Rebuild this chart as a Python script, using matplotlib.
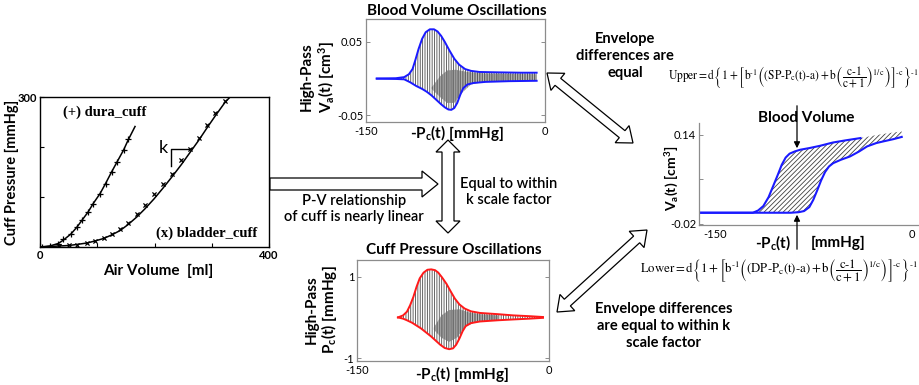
import numpy as np
import matplotlib
matplotlib.use("Agg")
import matplotlib.pyplot as plt
from matplotlib.transforms import Affine2D
from matplotlib.patches import Polygon, FancyArrowPatch

plt.rcParams['font.family'] = ['Lato', 'DejaVu Sans']
plt.rcParams['mathtext.fontset'] = 'custom'
plt.rcParams['mathtext.rm'] = 'Lato'
plt.rcParams['mathtext.it'] = 'Lato:italic'
plt.rcParams['mathtext.bf'] = 'Lato:bold'
plt.rcParams['hatch.linewidth'] = 0.6

# ---------------- data ----------------
# left: P-V curves
dura_fit_v = [0, 17, 32, 41, 54, 64, 73, 84, 93, 105, 115, 125, 135, 146, 154, 166]
dura_fit_p = [0, 2, 7, 14, 26, 39, 53, 70, 87, 107, 128, 150, 171, 194, 214, 241]
dura_pts_v = [3, 17, 32, 41, 54, 64, 73, 84, 93, 105, 115, 125, 135, 146, 154]
dura_pts_p = [1, 3, 7, 16, 27, 41, 54, 71, 87, 107, 127, 151, 171, 195, 217]
bladder_fit_v = [0, 34, 50, 64, 82, 96, 111, 125, 140, 154, 169, 183, 199, 215, 231, 247, 262, 277, 291, 306, 323, 332]
bladder_fit_p = [0, 2, 3, 5, 8, 12, 17, 24, 33, 45, 60, 76, 96, 118, 141, 165, 189, 213, 237, 262, 289, 300]
bladder_pts_v = [34, 50, 64, 82, 96, 111, 125, 140, 154, 169, 183, 199, 215, 231, 247, 262, 277, 291, 306, 323]
bladder_pts_p = [3, 4, 5, 9, 13, 19, 26, 36, 49, 66, 84, 106, 126, 147, 174, 197, 219, 244, 269, 293]

# top middle: high-pass blood volume envelope
bv_up_x = [-141, -125, -118, -114, -111, -108.5, -106, -103, -100, -96.5, -93, -90, -87, -84, -80, -76, -72, -67, -62, -55, -40, -20, -7]
bv_up_y = [0.0, 0.0005, 0.002, 0.006, 0.013, 0.026, 0.040, 0.054, 0.063, 0.067, 0.067, 0.064, 0.058, 0.050, 0.038, 0.027, 0.019, 0.013, 0.0105, 0.009, 0.0085, 0.008, 0.008]
bv_lo_x = [-141, -125, -118, -113, -108, -103, -99, -95, -91, -87, -84, -81, -78.5, -76, -73.5, -71, -68.5, -65, -60, -50, -30, -7]
bv_lo_y = [0.0, -0.0005, -0.001, -0.005, -0.010, -0.014, -0.018, -0.023, -0.029, -0.035, -0.039, -0.042, -0.0425, -0.040, -0.033, -0.022, -0.013, -0.008, -0.006, -0.0045, -0.0035, -0.003]
bv_in_up_x = [-95, -88, -82, -75, -65, -50, -7]
bv_in_up_y = [-0.012, 0.003, 0.011, 0.012, 0.009, 0.007, 0.006]
bv_in_lo_x = [-95, -88, -82, -76, -70, -62, -50, -7]
bv_in_lo_y = [-0.014, -0.025, -0.033, -0.033, -0.020, -0.008, -0.004, -0.002]

# bottom middle: high-pass cuff pressure envelope
cp_up_x = [-118, -114, -111, -108.5, -106, -103.5, -101, -98, -95, -92, -89, -86.5, -83.5, -80, -77, -73.5, -70, -66, -61, -54, -40, -28, -15, -4.7]
cp_up_y = [0.0, 0.05, 0.14, 0.30, 0.50, 0.75, 0.96, 1.10, 1.17, 1.18, 1.16, 1.10, 0.98, 0.82, 0.65, 0.46, 0.32, 0.22, 0.15, 0.11, 0.08, 0.05, 0.03, 0.01]
cp_lo_x = [-118, -114, -111, -107, -103.5, -100, -96, -92, -88.5, -85, -81.5, -78, -75, -72.5, -70, -67.5, -65, -61, -54, -40, -28, -15, -4.7]
cp_lo_y = [0.0, -0.03, -0.07, -0.13, -0.20, -0.27, -0.37, -0.47, -0.57, -0.67, -0.75, -0.78, -0.76, -0.67, -0.52, -0.34, -0.21, -0.14, -0.10, -0.07, -0.05, -0.03, -0.01]
cp_in_up_x = [-90, -84, -78, -70, -62, -54, -40]
cp_in_up_y = [-0.25, 0.05, 0.18, 0.20, 0.12, 0.08, 0.05]
cp_in_lo_x = [-90, -84, -78, -72, -66, -58, -40]
cp_in_lo_y = [-0.30, -0.50, -0.60, -0.50, -0.25, -0.12, -0.06]

# right: absolute blood volume envelope
va_up_x = [-162, -130, -121, -117, -113, -109, -105.5, -102, -99, -96, -93, -89, -85, -78, -70, -60, -50, -39]
va_up_y = [0.0, 0.0, 0.0, 0.004, 0.012, 0.028, 0.048, 0.068, 0.086, 0.099, 0.106, 0.110, 0.113, 0.116, 0.120, 0.126, 0.130, 0.134]
va_top_x = [-30, -20, -7.6]
va_top_y = [0.138, 0.142, 0.146]
va_lo_x = [-162, -120, -92, -86, -82, -78, -75, -72, -69, -66, -63, -59.8, -54, -47, -40, -34, -27, -21.6, -14, -7.6]
va_lo_y = [0.0, 0.0, 0.0, 0.001, 0.003, 0.010, 0.023, 0.040, 0.058, 0.073, 0.083, 0.089, 0.095, 0.101, 0.110, 0.119, 0.125, 0.128, 0.132, 0.136]

# ---------------- figure ----------------
W, H = 920, 385
fig = plt.figure(figsize=(W / 100, H / 100), dpi=100)
pix = Affine2D().scale(1 / W, -1 / H).translate(0, 1) + fig.transFigure


def add_ax(x0, y0, x1, y1):
    return fig.add_axes([x0 / W, 1 - y1 / H, (x1 - x0) / W, (y1 - y0) / H])


def txt(x, y, s, **kw):
    kw.setdefault('ha', 'center')
    kw.setdefault('va', 'center')
    return fig.text(x, y, s, transform=pix, **kw)


def block_arrow(x0, y0, x1, y1, shaft, head, hlen, double=False):
    p0 = np.array([x0, y0], float)
    p1 = np.array([x1, y1], float)
    d = p1 - p0
    u = d / np.hypot(*d)
    n = np.array([-u[1], u[0]])
    s, h = shaft / 2, head / 2
    b1 = p1 - u * hlen
    if double:
        b0 = p0 + u * hlen
        pts = [p0, b0 + n * h, b0 + n * s, b1 + n * s, b1 + n * h, p1,
               b1 - n * h, b1 - n * s, b0 - n * s, b0 - n * h]
    else:
        pts = [p0 + n * s, b1 + n * s, b1 + n * h, p1, b1 - n * h, b1 - n * s, p0 - n * s]
    fig.add_artist(Polygon(pts, closed=True, facecolor='white', edgecolor='black',
                           lw=0.9, transform=pix))


def style_box(ax, color='0.55'):
    for sp in ax.spines.values():
        sp.set_color(color)
        sp.set_linewidth(0.9)
    ax.tick_params(direction='in', length=3, width=0.7, color=color,
                   labelsize=8, pad=2)


# ---- left chart
axL = add_ax(40, 97, 269, 247)
axL.plot(dura_fit_v, dura_fit_p, color='black', lw=1.1)
axL.plot(bladder_fit_v, bladder_fit_p, color='black', lw=1.1)
axL.scatter(dura_pts_v, dura_pts_p, marker='+', s=14, color='black', lw=0.9)
axL.scatter(bladder_pts_v, bladder_pts_p, marker='x', s=9, color='black', lw=0.9)
axL.set_xlim(0, 400)
axL.set_ylim(0, 300)
for sp in axL.spines.values():
    sp.set_color('black')
    sp.set_linewidth(1.0)
axL.set_xticks([0, 100, 200, 300, 400])
axL.set_xticklabels(['0', '', '', '', '400'])
axL.set_yticks([0, 100, 200, 300])
axL.set_yticklabels(['', '', '', '300'])
axL.tick_params(direction='in', length=3, labelsize=8, pad=2)
for lab in axL.get_xticklabels() + axL.get_yticklabels():
    lab.set_fontweight('bold')
axL.text(0.10, 0.90, '(+) dura_cuff', transform=axL.transAxes, family=['Liberation Serif'],
         weight='bold', fontsize=10.5, ha='left', va='center')
axL.text(0.95, 0.09, '(x) bladder_cuff', transform=axL.transAxes, family=['Liberation Serif'],
         weight='bold', fontsize=10.5, ha='right', va='center')
axL.plot([228, 228, 262], [162, 197, 197], color='black', lw=1.0)
axL.text(215, 198, 'k', fontsize=13, ha='center', va='center')
txt(12, 172, 'Cuff Pressure [mmHg]', rotation=90, fontsize=10.5, weight='bold')
txt(158, 271, 'Air Volume  [ml]', fontsize=11, weight='bold')

# ---- top middle chart
axT = add_ax(366, 19, 545, 122)
axT.fill(np.concatenate([bv_up_x, bv_lo_x[::-1]]), np.concatenate([bv_up_y, bv_lo_y[::-1]]),
         facecolor='none', edgecolor='0.3', hatch='|' * 7, lw=0)
axT.fill(np.concatenate([bv_in_up_x, bv_in_lo_x[::-1]]), np.concatenate([bv_in_up_y, bv_in_lo_y[::-1]]),
         facecolor='0.55', alpha=0.45, edgecolor='0.15', hatch='|' * 10, lw=0)
axT.plot(bv_up_x, bv_up_y, color='#1a1aff', lw=1.4)
axT.plot(bv_lo_x, bv_lo_y, color='#1a1aff', lw=1.4)
axT.set_xlim(-150, 0)
axT.set_ylim(-0.059, 0.081)
axT.set_xticks([-150, 0])
axT.set_xticklabels(['-150', '0'])
axT.set_yticks([-0.05, 0.05])
axT.set_yticklabels(['-0.05', '0.05'])
style_box(axT)
axT.tick_params(axis='y', right=True)
axT.tick_params(axis='x', length=0, pad=3)
txt(457, 11, 'Blood Volume Oscillations', fontsize=11, weight='bold')
txt(307, 77, 'High-Pass', rotation=90, fontsize=11, weight='bold')
txt(327, 77, r'V$_\mathbf{a}$(t) [cm$^\mathbf{3}$]', rotation=90, fontsize=11, weight='bold')
txt(457, 133, r'-P$_\mathbf{c}$(t) [mmHg]', fontsize=11, weight='bold')

# ---- bottom middle chart
axB = add_ax(357, 260, 549, 361)
axB.fill(np.concatenate([cp_up_x, cp_lo_x[::-1]]), np.concatenate([cp_up_y, cp_lo_y[::-1]]),
         facecolor='none', edgecolor='0.3', hatch='|' * 7, lw=0)
axB.fill(np.concatenate([cp_in_up_x, cp_in_lo_x[::-1]]), np.concatenate([cp_in_up_y, cp_in_lo_y[::-1]]),
         facecolor='0.55', alpha=0.45, edgecolor='0.15', hatch='|' * 10, lw=0)
axB.plot(cp_up_x, cp_up_y, color='#ff1a1a', lw=1.4)
axB.plot(cp_lo_x, cp_lo_y, color='#ff1a1a', lw=1.4)
axB.set_xlim(-150, 0)
axB.set_ylim(-1.07, 1.41)
axB.set_xticks([-150, 0])
axB.set_xticklabels(['-150', '0'])
axB.set_yticks([-1, 1])
axB.set_yticklabels(['-1', '1'])
style_box(axB)
axB.tick_params(axis='y', right=True)
axB.tick_params(axis='x', length=0, pad=3)
txt(454, 250, 'Cuff Pressure Oscillations', fontsize=11, weight='bold')
txt(312, 310, 'High-Pass', rotation=90, fontsize=11, weight='bold')
txt(329, 310, r'P$_\mathbf{c}$(t) [mmHg]', rotation=90, fontsize=11, weight='bold')
txt(462, 374, r'-P$_\mathbf{c}$(t) [mmHg]', fontsize=11, weight='bold')

# ---- right chart
axR = add_ax(699, 123, 920, 225)
hx = np.concatenate([va_up_x[2:], va_top_x, va_lo_x[::-1][:-2]])
hy = np.concatenate([va_up_y[2:], va_top_y, va_lo_y[::-1][:-2]])
axR.fill(hx, hy, facecolor='none', edgecolor='0.25', hatch='/' * 7, lw=0)
axR.plot(va_up_x, va_up_y, color='#1a1aff', lw=1.5)
axR.plot(va_lo_x, va_lo_y, color='#1a1aff', lw=1.5)
axR.set_xlim(-162, 6.3)
axR.set_ylim(-0.022, 0.161)
axR.set_xticks([-150, 0])
axR.set_xticklabels(['-150', '0'])
axR.set_yticks([-0.02, 0.06, 0.14])
axR.set_yticklabels(['-0.02', '', '0.14'])
style_box(axR)
axR.spines['top'].set_visible(False)
axR.spines['right'].set_visible(False)
axR.tick_params(axis='x', length=0, pad=3)
txt(671, 178, r'V$_\mathbf{a}$(t) [cm$^\mathbf{3}$]', rotation=90, fontsize=10, weight='bold')
txt(773, 243, r'-P$_\mathbf{c}$(t)', fontsize=11, weight='bold')
txt(838, 243, '[mmHg]', fontsize=11, weight='bold')
txt(806, 118, 'Blood Volume', fontsize=11, weight='bold')

# thin arrows pointing at envelopes
fig.add_artist(FancyArrowPatch((797, 103), (797, 151), transform=pix,
               arrowstyle='-|>', mutation_scale=9, color='black', lw=0.9))
fig.add_artist(FancyArrowPatch((797, 252), (797, 212), transform=pix,
               arrowstyle='-|>', mutation_scale=9, color='black', lw=0.9))

# ---- equations
eq_up = (r'$\mathrm{Upper{=}d}\left\{1+\left[\mathrm{b}^{\text{-1}}\left((\text{SP-P}_{\mathrm{c}}\text{(t)-a})'
         r'+\mathrm{b}\left(\dfrac{\text{c-1}}{\mathrm{c}+1}\right)^{1/\mathrm{c}}\right)\right]^{\text{-c}}\right\}^{\text{-1}}$')
eq_lo = (r'$\mathrm{Lower{=}d}\left\{1+\left[\mathrm{b}^{\text{-1}}\left((\text{DP-P}_{\mathrm{c}}\text{(t)-a})'
         r'+\mathrm{b}\left(\dfrac{\text{c-1}}{\mathrm{c}+1}\right)^{1/\mathrm{c}}\right)\right]^{\text{-c}}\right\}^{\text{-1}}$')
txt(918, 78, eq_up, ha='right', fontsize=8.3, math_fontfamily='stix')
txt(918, 271, eq_lo, ha='right', fontsize=9.2, math_fontfamily='stix')

# ---- annotation texts
txt(625, 56, 'Envelope\ndifferences are\nequal', fontsize=10.5, weight='bold', linespacing=1.25)
txt(664, 326, 'Envelope differences\nare equal to within k\nscale factor', fontsize=10.5,
    weight='bold', linespacing=1.25)
txt(354, 209, 'P-V relationship\nof cuff is nearly linear', fontsize=10.5, weight='semibold',
    linespacing=1.2)
txt(509, 192, 'Equal to within\nk scale factor', fontsize=10.5, weight='semibold', linespacing=1.2)

# ---- block arrows
block_arrow(270, 184, 438, 184, 12, 26, 16)
block_arrow(448, 140, 448, 233, 12, 24, 12, double=True)
block_arrow(547, 73, 633, 143, 9, 22, 14, double=True)
block_arrow(557, 312, 647, 230, 9, 22, 14, double=True)

fig.savefig('out.png', dpi=100)
